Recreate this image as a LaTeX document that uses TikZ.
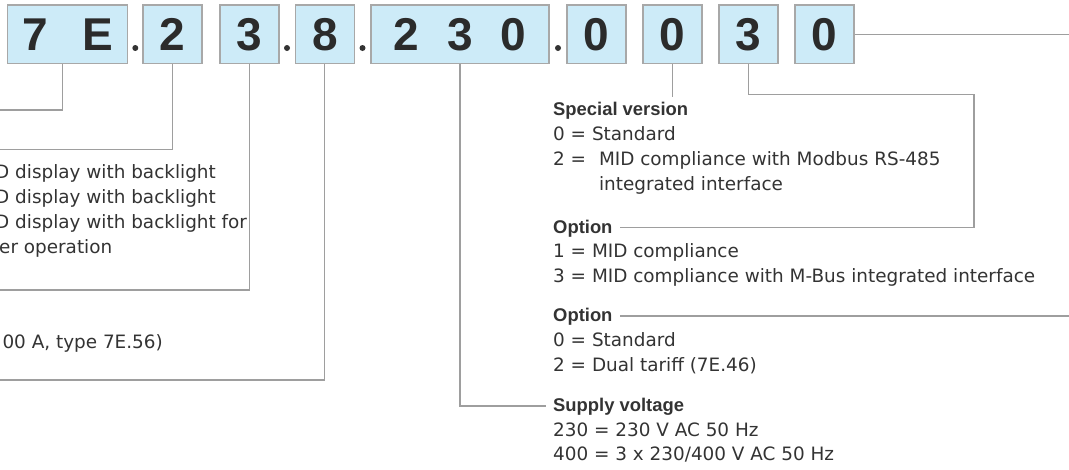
\documentclass[tikz,border=0pt]{standalone}
\usepackage{fontspec}
\setmainfont{DejaVu Sans}
\newfontfamily\codefont{Liberation Sans}
\definecolor{boxblue}{HTML}{CDEBF8}
\definecolor{boxgray}{HTML}{A8A8A8}
\definecolor{linegray}{HTML}{9E9E9E}
\definecolor{txtgray}{HTML}{333333}

\begin{document}
\begin{tikzpicture}[x=1pt,y=-1pt,
  digit/.style={draw=boxgray,line width=1.2pt,fill=boxblue,minimum height=58.5pt,inner sep=0pt,text=txtgray!85!black,font=\codefont\bfseries\fontsize{46}{46}\selectfont},
  sepdot/.style={circle,fill=txtgray,inner sep=0pt,minimum size=6pt},
  link/.style={draw=linegray,line width=1.2pt},
  hdr/.style={anchor=base west,inner xsep=7pt,inner ysep=0pt,text height=14pt,text depth=3pt,text=txtgray,font=\codefont\bfseries\fontsize{18.4}{25}\selectfont},
  entry/.style={anchor=base west,inner xsep=7pt,inner ysep=0pt,text=txtgray,font=\fontsize{18.4}{25}\selectfont}]
\useasboundingbox (0,0) rectangle (1069,469);
\clip (0,0) rectangle (1069,469);

% code boxes
\foreach \name/\x/\w/\t in {b1/67.6/120/{7\hspace{34pt}E}, b2/172.5/59/2, b3/249.5/59/3, b4/324.8/59/8,
  b5/460/178/{2\hspace{28pt}3\hspace{28pt}0}, b6/596.5/59/0, b7/672.5/59/0, b8/748.5/59/3, b9/824.5/59/0}
  \node[digit,minimum width=\w pt] (\name) at (\x,34.2) {\t};
\node[sepdot] (d1) at (135.3,48) {};
\node[sepdot] (d2) at (287,48) {};
\node[sepdot] (d3) at (362.5,48) {};
\node[sepdot] (d4) at (558,48) {};

% left part (cut off)
\node[entry,inner xsep=0pt] (dsp1) at (-5,178) {D display with backlight};
\node[entry,inner xsep=0pt] (dsp2) at (-5,203) {D display with backlight};
\node[entry,inner xsep=0pt] (dsp3) at (-5,228) {D display with backlight for};
\node[entry,inner xsep=0pt] (dsp4) at (-1,253) {er operation};
\node[entry,inner xsep=0pt,anchor=base east] (amp) at (163,348) {00 A, type 7E.56)};

% right part
\node[hdr] (sv) at (546,115) {Special version};
\node[entry] (sv1) at (546,140) {0 = Standard};
\node[entry] (sv2) at (546,165) {2 = \hspace{7pt}MID compliance with Modbus RS-485};
\node[entry] (sv3) at (546,190) {\hphantom{2 = }\hspace{7pt}integrated interface};
\node[hdr] (op2) at (546,233) {Option};
\node[entry] (op21) at (546,257.5) {1 = MID compliance};
\node[entry] (op22) at (546,282) {3 = MID compliance with M-Bus integrated interface};
\node[hdr] (op3) at (546,321.5) {Option};
\node[entry] (op31) at (546,346.5) {0 = Standard};
\node[entry] (op32) at (546,371.5) {2 = Dual tariff (7E.46)};
\node[hdr] (sup) at (546,411.5) {Supply voltage};
\node[entry] (sup1) at (546,436) {230 = 230 V AC 50 Hz};
\node[entry] (sup2) at (546,460.5) {400 = 3 x 230/400 V AC 50 Hz};

% connectors
\coordinate (k1) at (-20,110);
\coordinate (k2) at (-20,149.3);
\coordinate (k3) at (-20,290);
\coordinate (k4) at (-20,380);
\coordinate (k8) at (974,94.3);
\coordinate (k9) at (1100,0);
\draw[link] ([xshift=-5pt]b1.south) |- (k1);
\draw[link] (b2.south) |- (k2);
\draw[link] (b3.south) |- (k3);
\draw[link] (b4.south) |- (k4);
\draw[link] (b5.south) |- (sup.west);
\draw[link] (b7.south) -- ([yshift=4pt]b7.south |- sv.north);
\draw[link] (b8.south) |- (k8) |- (op2.east);
\draw[link] (b9.east) -- (b9.east -| k9) |- (op3.east);
\end{tikzpicture}
\end{document}
